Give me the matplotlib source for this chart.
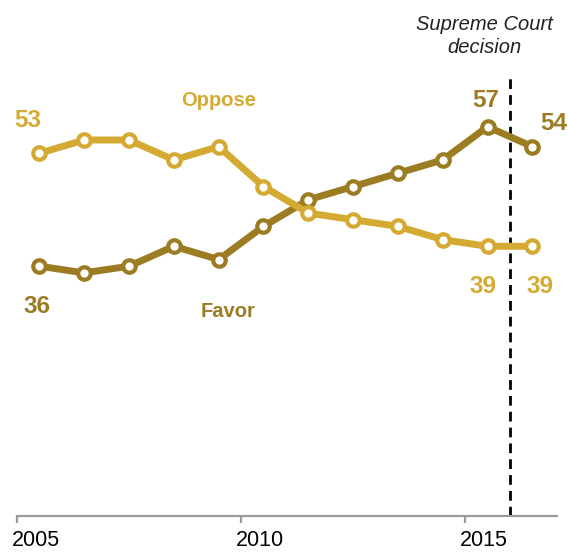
import matplotlib
matplotlib.use('Agg')
import matplotlib.pyplot as plt
import matplotlib.transforms as mtransforms

# ========== data ==========
years = [2005, 2006, 2007, 2008, 2009, 2010, 2011, 2012, 2013, 2014, 2015, 2016]
oppose = [53, 55, 55, 52, 54, 48, 44, 43, 42, 40, 39, 39]
favor = [36, 35, 36, 39, 37, 42, 46, 48, 50, 52, 57, 54]
decision_year = 2016.0
tick_years = [2005, 2010, 2015]

c_oppose = '#D5AA32'
c_favor = '#9B7C22'

plt.rcParams['font.family'] = ['Liberation Sans', 'DejaVu Sans']

fig = plt.figure(figsize=(5.68, 5.52), dpi=100)
ax = fig.add_axes([17 / 568, 0.0652, 540 / 568, 0.8256])

x = [y + 0.5 for y in years]
style = dict(lw=5, marker='o', markersize=9, markerfacecolor='white',
             markeredgewidth=3, solid_joinstyle='miter', clip_on=False)
ax.plot(x, favor, color=c_favor, zorder=3, **style)
ax.plot(x, oppose, color=c_oppose, zorder=4, **style)

# Supreme Court decision marker
ax.vlines(decision_year, -1.6, 65, colors='black', linestyles=(0, (3.5, 2.2)), lw=2, zorder=2)
ax.text(decision_year - 0.58, 70.7, 'Supreme Court\ndecision', ha='center', va='center',
        fontsize=14.5, style='italic', color='#222222', linespacing=1.25, clip_on=False)

# labels
num = dict(fontsize=17.5, fontweight='bold', ha='center', va='center')
ax.text(x[0] - 0.25, oppose[0] + 5, str(oppose[0]), color=c_oppose, **num)
ax.text(x[0] - 0.05, favor[0] - 6, str(favor[0]), color=c_favor, **num)
ax.text(x[-2] - 0.05, favor[-2] + 4, str(favor[-2]), color=c_favor, **num)
ax.text(x[-1] + 0.47, favor[-1] + 3.5, str(favor[-1]), color=c_favor, **num)
ax.text(x[-2] - 0.1, oppose[-2] - 6, str(oppose[-2]), color=c_oppose, **num)
ax.text(x[-1] + 0.18, oppose[-1] - 6, str(oppose[-1]), color=c_oppose, **num)
lab = dict(fontsize=14.5, fontweight='bold', ha='center', va='center')
ax.text(2009.5, 61.0, 'Oppose', color=c_oppose, **lab)
ax.text(2009.7, 29.25, 'Favor', color=c_favor, **lab)

ax.set_xlim(2005, 2017.05)
ax.set_ylim(-1.6, 67)

for s in ['top', 'right', 'left']:
    ax.spines[s].set_visible(False)
ax.spines['bottom'].set_color('#9a9a9a')
ax.spines['bottom'].set_linewidth(1.6)
ax.set_yticks([])
ax.set_xticks(tick_years)
ax.set_xticklabels([str(t) for t in tick_years], fontsize=15.5)
ax.tick_params(axis='x', length=5, width=1.6, color='#9a9a9a', pad=5)
offset = mtransforms.ScaledTranslation(-5 / 100, 0, fig.dpi_scale_trans)
for t in ax.get_xticklabels():
    t.set_horizontalalignment('left')
    t.set_transform(t.get_transform() + offset)

fig.savefig('out.png', dpi=100)
